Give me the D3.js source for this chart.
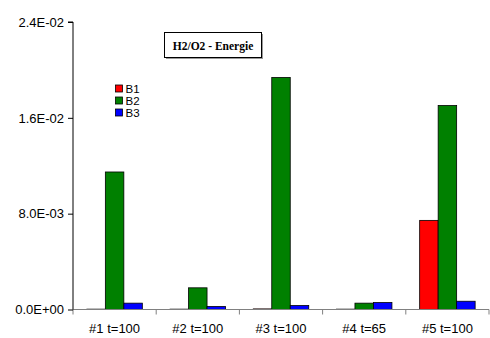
<!DOCTYPE html>
<html>
<head>
<meta charset="utf-8">
<script src="https://cdn.jsdelivr.net/npm/d3@7"></script>
<style>
  html, body { margin: 0; padding: 0; background: #fff; }
  svg { display: block; }
</style>
</head>
<body>
<svg id="chart" width="490" height="338"></svg>
<script>
// Runs and their values for each series
const categories = ["#1 t=100", "#2 t=100", "#3 t=100", "#4 t=65", "#5 t=100"];
const seriesNames = ["B1", "B2", "B3"];
const seriesColors = ["#ff0000", "#008000", "#0000ff"];
const b1 = [0.00003, 0.00003, 0.00005, 0.00003, 0.00744];
const b2 = [0.01148, 0.00181, 0.01937, 0.00053, 0.01703];
const b3 = [0.00053, 0.00025, 0.00033, 0.00058, 0.00069];
const yTicks = [0, 0.008, 0.016, 0.024];
const title = "H2/O2 - Energie";

const series = [b1, b2, b3];

const svg = d3.select("#chart");
const plotLeft = 73, plotRight = 489, plotTop = 22, plotBottom = 309.5;

const x0 = d3.scaleBand().domain(categories).range([plotLeft, plotRight]).paddingInner(0).paddingOuter(0);
// gap between groups equals 1.5 bar widths
const bandW = x0.bandwidth();
const barW = bandW / 4.5;
const x1 = d3.scaleBand().domain(seriesNames).range([0, barW * 3]);

const y = d3.scaleLinear().domain([0, 0.024]).range([plotBottom, plotTop]);

const fmt = v => {
  const s = v.toExponential(1).toUpperCase();
  return s.replace(/E([+-])(\d)$/, "E$10$2");
};

// bars
categories.forEach((c, i) => {
  const gx = x0(c) + (bandW - barW * 3) / 2;
  seriesNames.forEach((s, j) => {
    const v = series[j][i];
    svg.append("rect")
      .attr("x", gx + x1(s))
      .attr("y", y(v))
      .attr("width", x1.bandwidth())
      .attr("height", Math.max(0, y(0) - y(v)))
      .attr("fill", seriesColors[j])
      .attr("stroke", "#000")
      .attr("stroke-width", 0.8);
  });
});

// x axis (grey baseline with tick marks between groups)
const xAxisG = svg.append("g").attr("transform", `translate(0,${plotBottom})`);
xAxisG.append("line")
  .attr("x1", plotLeft).attr("x2", plotRight)
  .attr("y1", 0).attr("y2", 0)
  .attr("stroke", "#808080").attr("stroke-width", 1);
const bounds = categories.map(c => x0(c)).concat([plotRight]);
xAxisG.selectAll("line.tick").data(bounds).enter().append("line")
  .attr("class", "tick")
  .attr("x1", d => d).attr("x2", d => d)
  .attr("y1", 0).attr("y2", 5)
  .attr("stroke", "#808080");
xAxisG.selectAll("text").data(categories).enter().append("text")
  .attr("x", d => x0(d) + bandW / 2)
  .attr("y", 23)
  .attr("text-anchor", "middle")
  .attr("font-family", "Liberation Sans, Arial, sans-serif")
  .attr("font-size", 13)
  .attr("fill", "#000")
  .text(d => d);

// y axis
const yAxis = d3.axisLeft(y).tickValues(yTicks).tickFormat(fmt).tickSize(5).tickPadding(4);
const yAxisG = svg.append("g").attr("transform", `translate(${plotLeft},0)`).call(yAxis);
yAxisG.select(".domain").attr("stroke", "#000").attr("d", `M-5,${plotTop}H0V${plotBottom}`);
yAxisG.selectAll(".tick line").attr("stroke", "#000");
yAxisG.selectAll(".tick text")
  .attr("font-family", "Liberation Sans, Arial, sans-serif")
  .attr("font-size", 13)
  .attr("fill", "#000");

// title box
const tg = svg.append("g");
tg.append("rect").attr("x", 166).attr("y", 34).attr("width", 97).attr("height", 25).attr("fill", "#999");
tg.append("rect").attr("x", 164.5).attr("y", 32.5).attr("width", 97).attr("height", 25)
  .attr("fill", "#fff").attr("stroke", "#000").attr("stroke-width", 1);
tg.append("text").attr("x", 213).attr("y", 49.5)
  .attr("text-anchor", "middle")
  .attr("font-family", "Liberation Serif, Times New Roman, serif")
  .attr("font-weight", "bold")
  .attr("font-size", 11.5)
  .text(title);

// legend
const lg = svg.append("g");
seriesNames.forEach((s, j) => {
  const cy = 88.5 + j * 12;
  lg.append("rect").attr("x", 115.5).attr("y", cy - 3.5).attr("width", 7).attr("height", 7)
    .attr("fill", seriesColors[j]).attr("stroke", "#000").attr("stroke-width", 0.8);
  lg.append("text").attr("x", 125.5).attr("y", cy + 4)
    .attr("font-family", "Liberation Sans, Arial, sans-serif")
    .attr("font-size", 11.5)
    .text(s);
});
</script>
</body>
</html>
